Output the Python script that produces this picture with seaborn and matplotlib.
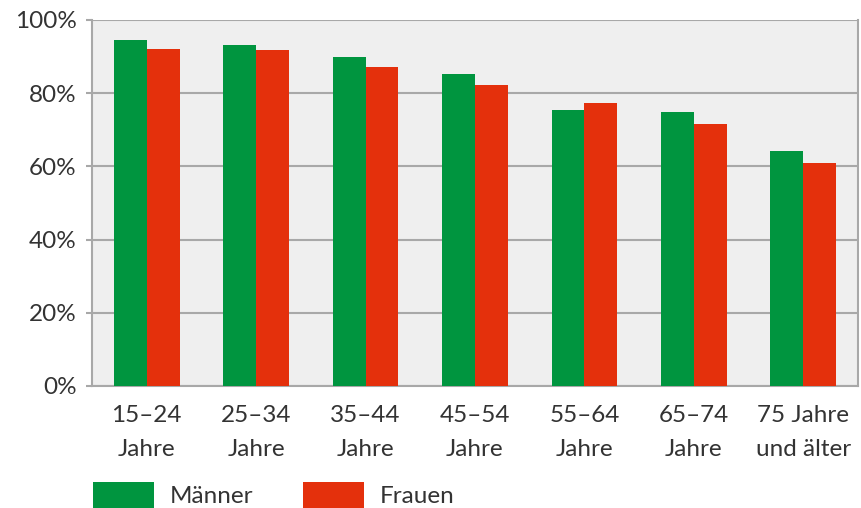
import matplotlib
matplotlib.use("Agg")
import matplotlib.pyplot as plt
import seaborn as sns
import pandas as pd
from matplotlib.patches import Patch

categories = ["15–24\nJahre", "25–34\nJahre", "35–44\nJahre", "45–54\nJahre",
              "55–64\nJahre", "65–74\nJahre", "75 Jahre\nund älter"]
maenner = [94.6, 93.1, 89.8, 85.3, 75.4, 74.8, 64.1]
frauen = [92.0, 91.7, 87.2, 82.3, 77.3, 71.5, 61.0]
series = ["Männer", "Frauen"]
colors = ["#00953f", "#e4300c"]
yticks = [0, 20, 40, 60, 80, 100]
ytick_labels = ["0%", "20%", "40%", "60%", "80%", "100%"]

df = pd.DataFrame({
    "Alter": categories * 2,
    "Wert": maenner + frauen,
    "Geschlecht": [series[0]] * len(categories) + [series[1]] * len(categories),
})

sns.set_theme(style="white")
plt.rcParams["font.family"] = ["Lato", "DejaVu Sans"]

FS = 17.5
fig = plt.figure(figsize=(8.62, 5.08), dpi=100)
ax = fig.add_axes([92 / 862, 1 - 386 / 508, 766 / 862, 366 / 508])
ax.set_facecolor("#efefef")

sns.barplot(data=df, x="Alter", y="Wert", hue="Geschlecht", order=categories,
            hue_order=series, palette=colors, width=0.6, gap=0, linewidth=0,
            saturation=1, ax=ax, legend=False, zorder=3)

ax.set_ylim(0, 100)
ax.set_xlim(-0.5, len(categories) - 0.5)
ax.set_yticks(yticks)
ax.set_yticklabels(ytick_labels)
ax.yaxis.grid(True, color="#a8a8a8", linewidth=1.5, zorder=1)
ax.set_axisbelow(True)
ax.set_xlabel("")
ax.set_ylabel("")

for side in ["left", "bottom", "right", "top"]:
    ax.spines[side].set_color("#a8a8a8")
    ax.spines[side].set_linewidth(1.5)
ax.spines["top"].set_visible(False)

ax.tick_params(axis="y", length=4, width=1.5, color="#a8a8a8", pad=7,
               labelsize=FS, labelcolor="#333333", left=True)
ax.tick_params(axis="x", length=0, pad=14, labelsize=FS, labelcolor="#333333")
for lbl in ax.get_xticklabels():
    lbl.set_linespacing(1.75)

handles = [Patch(facecolor=c, edgecolor="none") for c in colors]
fig.legend(handles, series, loc="upper left", bbox_to_anchor=(93 / 862, 1 - 482 / 508),
           ncol=2, frameon=False, fontsize=FS, handlelength=2.5, handleheight=1.25,
           handletextpad=0.66, columnspacing=2.05, borderpad=0, borderaxespad=0,
           labelcolor="#333333")

fig.savefig("out.png", dpi=100)
